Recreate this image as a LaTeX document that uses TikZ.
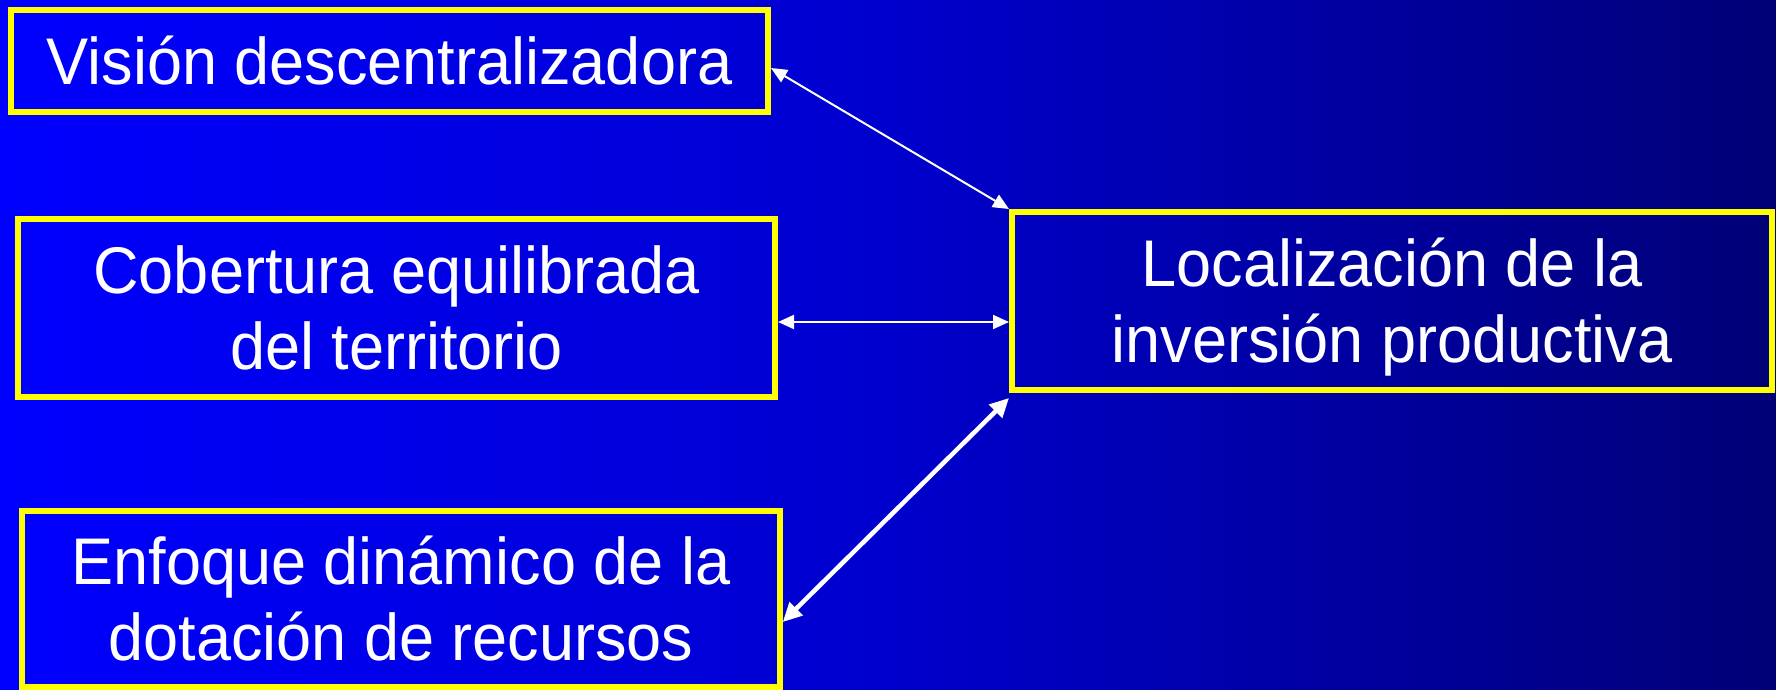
\documentclass[tikz,border=0pt]{standalone}
\usepackage{fontspec}
\setmainfont{Liberation Sans}[FakeStretch=0.955]
\usetikzlibrary{arrows.meta,calc}
\definecolor{bgleft}{RGB}{0,0,255}
\definecolor{bgmid}{RGB}{0,0,205}
\definecolor{bgright}{RGB}{0,0,118}
\definecolor{boxyellow}{RGB}{255,255,0}
\tikzset{
  box/.style={draw=boxyellow, line width=6pt, rectangle, inner sep=0pt},
  lbl/.style={text=white, align=center, inner sep=0pt, font=\fontsize{66}{76}\selectfont},
  link/.style={draw=white, line width=2pt, {Triangle[length=16pt,width=14pt]}-{Triangle[length=16pt,width=14pt]}},
  thicklink/.style={draw=white, line width=4.5pt, {Triangle[length=19pt,width=18pt]}-{Triangle[length=19pt,width=18pt]}}
}
\begin{document}
\begin{tikzpicture}[x=1pt,y=1pt]
\useasboundingbox (0,0) rectangle (1776,-689);
\shade[left color=bgleft, right color=bgright, middle color=bgmid] (0,0) rectangle (1776,-689);
\node[box, minimum width=757pt, minimum height=102pt] (b1) at (389.5,-61) {};
\node[box, minimum width=757pt, minimum height=178pt] (b2) at (396.5,-308) {};
\node[box, minimum width=757.5pt, minimum height=176pt] (b3) at (401,-599) {};
\node[box, minimum width=760pt, minimum height=178pt] (b4) at (1392,-301) {};
\node[lbl, yshift=-8pt] (t1) at (b1.center) {\strut Visión descentralizadora};
\node[lbl, yshift=-8pt] (t2) at (b2.center) {\strut Cobertura equilibrada\\\strut del territorio};
\node[lbl, yshift=-8pt] (t3) at (b3.center) {\strut Enfoque dinámico de la\\\strut dotación de recursos};
\node[lbl, yshift=-8pt] (t4) at (b4.center) {\strut Localización de la\\\strut inversión productiva};
\draw[link] ([yshift=-7pt]b1.east) -- (b4.north west);
\draw[link] ([yshift=-14pt]b2.east) -- ([yshift=-14pt]b2.east -| b4.west);
\draw[thicklink] ([yshift=-5pt]b4.south west) -- ([yshift=-23pt]b3.east);
\end{tikzpicture}
\end{document}
